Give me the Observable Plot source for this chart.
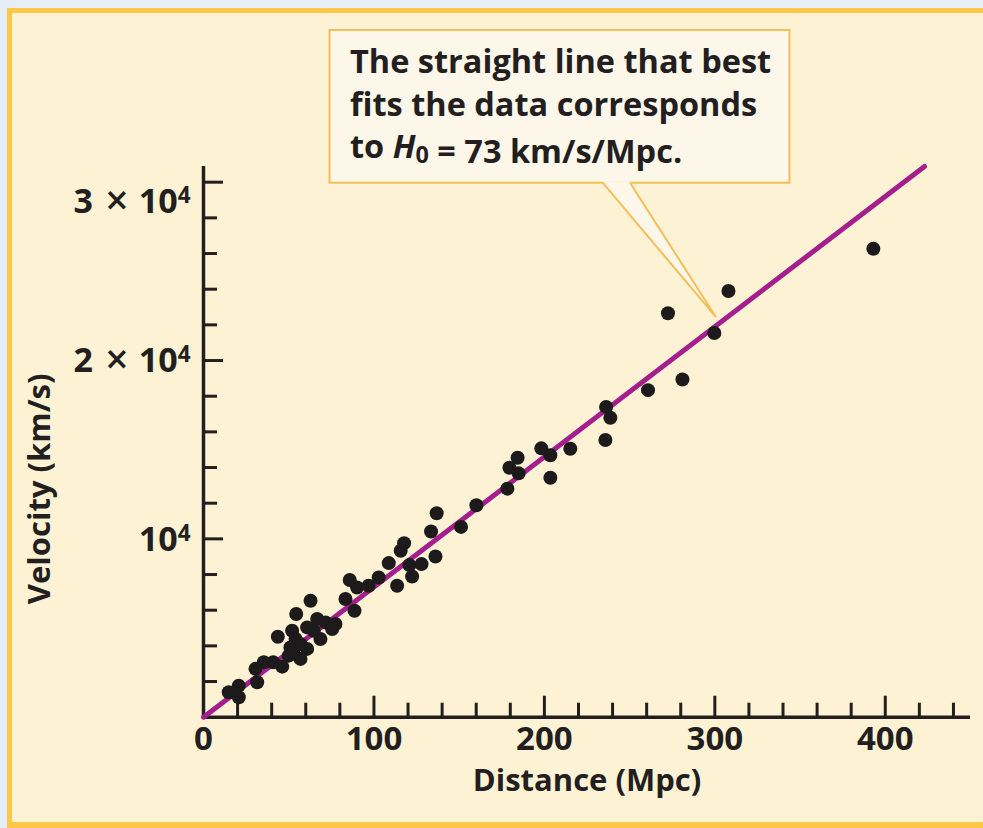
<!DOCTYPE html>
<html>
<head>
<meta charset="utf-8">
<script src="https://cdn.jsdelivr.net/npm/d3@7"></script>
<script src="https://cdn.jsdelivr.net/npm/@observablehq/plot@0.6"></script>
<style>
  html, body { margin: 0; padding: 0; }
  #wrap { position: relative; width: 983px; height: 828px; overflow: hidden; background: #e6eef7; }
  #panel { position: absolute; left: 7px; top: 8px; width: 1000px; height: 820px; box-sizing: border-box;
           background: #fdf3d4; border-left: 5px solid #fcc845; border-top: 5px solid #fcc845; border-bottom: 6px solid #fcc845; }
  #chart { position: absolute; left: 0; top: 0; }
</style>
</head>
<body>
<div id="wrap"><div id="panel"></div><div id="chart"></div></div>
<script>
// ---- data ----
const distance = [393, 308, 272.5, 299.7, 281, 260.8, 236.2, 238.7, 235.8, 215.2,
  198.2, 203.5, 203.5, 184.3, 179.5, 184.9, 178.3, 160.1, 151.1, 136.8,
  133.5, 136.1, 117.7, 115.7, 108.7, 120.8, 127.9, 122.4, 102.8, 85.8,
  113.6, 90.1, 96.9, 83.3, 88.6, 62.8, 54.4, 66.7, 71.6, 77.4,
  75.5, 60.8, 64.7, 68.6, 52, 43.6, 54, 56.9, 51, 60.8,
  53, 56.9, 50, 46.2, 40.9, 35.4, 30.5, 31.5, 20.7, 14.8, 20.7];
const velocity = [26270, 23895, 22650, 21545, 18940, 18340, 17400, 16790, 15540, 15050,
  15075, 14685, 13430, 14550, 13990, 13675, 12815, 11885, 10670, 11440,
  10410, 9010, 9760, 9330, 8640, 8530, 8585, 7890, 7835, 7690,
  7370, 7275, 7370, 6625, 5970, 6530, 5785, 5505, 5315, 5225,
  4945, 5035, 4850, 4385, 4850, 4515, 4385, 4105, 3915, 3830,
  3550, 3270, 3450, 2835, 3080, 3080, 2710, 1960, 1770, 1400, 1120];
const hubbleConstant = 73;              // km/s/Mpc
const fitDistances = [0, 423];          // extent of the best-fit line (Mpc)
const xMajorTicks = [0, 100, 200, 300, 400];
const xMinorTicks = [20, 40, 60, 80, 120, 140, 160, 180, 220, 240, 260, 280, 320, 340, 360, 380, 420, 440];
const yMajorTicks = [10000, 20000, 30000];
const yMinorTicks = [2000, 4000, 6000, 8000, 12000, 14000, 16000, 18000, 22000, 24000, 26000, 28000];
const yTickLabels = ["10^4", "2 × 10^4", "3 × 10^4"];
const xAxisTitle = "Distance (Mpc)";
const yAxisTitle = "Velocity (km/s)";
const calloutLines = ["The straight line that best", "fits the data corresponds", "to |H|_0| = 73 km/s/Mpc."];
const calloutTip = {distance: 301, velocity: 22400};

// ---- build ----
const points = distance.map((d, i) => ({distance: d, velocity: velocity[i]}));
const fit = fitDistances.map(d => ({distance: d, velocity: hubbleConstant * d}));
const ink = "#231f20";
const font = "'Open Sans', 'Noto Sans', sans-serif";

const plot = Plot.plot({
  width: 983, height: 828,
  marginLeft: 203, marginRight: 13, marginTop: 166, marginBottom: 111.3,
  style: {background: "transparent", fontFamily: font, overflow: "visible", color: ink},
  x: {domain: [0, 450]},
  y: {domain: [0, 30880]},
  marks: [
    Plot.axisX(xMinorTicks, {tickSize: 14, dy: -14, fill: "none", stroke: ink, strokeWidth: 3, label: null}),
    Plot.axisX(xMajorTicks.slice(1), {tickSize: 21, dy: -21, fill: "none", stroke: ink, strokeWidth: 3, label: null}),
    Plot.axisY(yMinorTicks, {tickSize: 14, dx: 14, fill: "none", stroke: ink, strokeWidth: 3, label: null}),
    Plot.axisY(yMajorTicks, {tickSize: 20, dx: 20, fill: "none", stroke: ink, strokeWidth: 3, label: null}),
    Plot.axisX(xMajorTicks, {tickSize: 0, tickPadding: 9, fontSize: 33, fontWeight: "bold", fill: ink, label: null}),
    Plot.axisY(yMajorTicks, {tickSize: 0, tickPadding: 13, dy: 1, fontSize: 34, fontWeight: "bold", fill: ink, label: null,
      tickFormat: d => yTickLabels[yMajorTicks.indexOf(d)]}),
    Plot.ruleY([0], {stroke: ink, strokeWidth: 3.5}),
    Plot.ruleX([0], {stroke: ink, strokeWidth: 3.5}),
    Plot.line(fit, {x: "distance", y: "velocity", stroke: "#a51e8d", strokeWidth: 5}),
    Plot.dot(points, {x: "distance", y: "velocity", r: 7, fill: "#1c1a1a"}),
    Plot.text([xAxisTitle], {text: d => d, frameAnchor: "bottom", lineAnchor: "middle", textAnchor: "middle",
      dy: 64, fontSize: 31, fontWeight: "bold", fill: ink}),
    Plot.text([yAxisTitle], {text: d => d, frameAnchor: "left", lineAnchor: "middle", textAnchor: "middle",
      dx: -163, dy: 47, rotate: -90, fontSize: 31, fontWeight: "bold", fill: ink})
  ]
});

// superscripts and a larger multiplication sign in y tick labels
d3.select(plot).selectAll('g[aria-label="y-axis tick label"] text').each(function() {
  const t = d3.select(this);
  const s = t.text();
  if (!s.includes("^")) return;
  const [base, sup] = s.split("^");
  t.text(null);
  if (s.startsWith("3")) t.attr("dy", "0.55em");
  if (base.includes("×")) {
    const [lead, tail] = base.split("×");
    t.append("tspan").text(lead.trim());
    t.append("tspan").attr("font-size", "1.2em").attr("font-weight", 600).attr("dx", "0.3em").attr("dy", "0.05em").text("×");
    t.append("tspan").attr("dx", "0.3em").attr("dy", "-0.06em").text(tail.trim());
  } else {
    t.append("tspan").text(base);
  }
  t.append("tspan").attr("dy", "-0.45em").attr("font-size", "0.66em").text(sup);
});

// callout box anchored to the fit line
const svg = d3.select(plot);
const tipX = plot.scale("x").apply(calloutTip.distance);
const tipY = plot.scale("y").apply(calloutTip.velocity);
const box = {x: 329.5, y: 30, w: 460, h: 152.7};
const base = [602.7, 630];
const g = svg.append("g").attr("class", "callout");
g.append("rect").attr("x", box.x).attr("y", box.y).attr("width", box.w).attr("height", box.h)
  .attr("fill", "#fdf7ea").attr("stroke", "#f6be58").attr("stroke-width", 2);
g.append("polygon").attr("points", `${base[0]},${box.y + box.h - 1.5} ${base[1]},${box.y + box.h - 1.5} ${tipX},${tipY}`)
  .attr("fill", "#fdf7ea");
g.append("polyline").attr("points", `${base[0]},${box.y + box.h} ${tipX},${tipY} ${base[1]},${box.y + box.h}`)
  .attr("fill", "none").attr("stroke", "#f6be58").attr("stroke-width", 2);
const tx = g.append("text").attr("font-family", font).attr("font-weight", "bold").attr("font-size", 32.5)
  .attr("text-anchor", "start").attr("fill", ink);
calloutLines.forEach((line, i) => {
  const el = tx.append("tspan").attr("x", 350).attr("y", 73 + i * 42.5);
  line.split("|").forEach((part, j) => {
    if (j === 1) el.append("tspan").attr("font-style", "italic").text(part);
    else if (part.startsWith("_")) el.append("tspan").attr("font-size", "0.72em").attr("dy", "0.22em").text(part.slice(1));
    else if (j === 2) el.append("tspan").attr("dy", "-0.16em").text(part);
    else el.append("tspan").text(part);
  });
});

document.getElementById("chart").append(plot);
</script>
</body>
</html>
